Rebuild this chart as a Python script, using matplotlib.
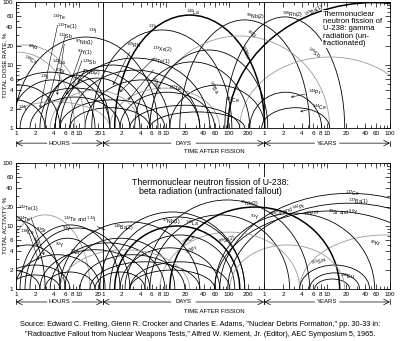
import numpy as np
import matplotlib
matplotlib.use('Agg')
import matplotlib.pyplot as plt
from matplotlib.patches import Arc
from matplotlib.ticker import NullFormatter

plt.rcParams['font.family'] = ['Liberation Sans', 'DejaVu Sans']
plt.rcParams['mathtext.fontset'] = 'dejavusans'

# time axis is hours after fission; 1 day = 24 h, 1 year = 8766 h
HOURS_PER_DAY = 24
HOURS_PER_YEAR = 8766

hour_ticks = [1, 2, 4, 6, 8, 10, 20]
day_ticks = [1, 2, 4, 6, 8, 10, 20, 40, 60, 100, 200]
year_ticks = [1, 2, 4, 6, 8, 10, 20, 40, 60, 100]
y_ticks = [1, 2, 4, 6, 10, 20, 40, 60, 100]

# gamma panel: each nuclide curve = (start h, end h, peak %)
gamma_names = ['133I', '131I', '140La', '95Nb(2)', '106Rh(2)', '137Ba(1)', '95Zr', '125Sb',
               '103Ru', '140Ba', '141Ce', '144Pr', '144Ce', '147Nd', '127Te', '133Xe(2)',
               '105Rh', '129Te(1)', '138Cs', '88Kr', 'a', 'b', 'c', 'd', '97Nb(1)', 'e',
               'f', 'g', 'h', 'i', 'j', '129Sb', '91Y', 'k', 'l', '99Mo']
gamma_start = [0.93, 16, 37, 400, 2080, 2320, 134, 3590,
               134, 77, 278, 5180, 8030, 45, 31, 7.2,
               4.2, 12.5, 0.13, 0.155, 0.39, 0.8, 1.16, 1.67, 2.4, 3.5,
               0.27, 5, 7.2, 0.56, 0.32, 2.9, 4.2, 64.5, 134, 5]
gamma_end = [180, 2690, 8960, 46400, 167000, 1e8, 96400, 2.6e6,
             10000, 5180, 8960, 71900, 96400, 1440, 1730, 833,
             278, 833, 8.6, 12.5, 31, 18, 64.5, 45, 134, 93,
             5, 232, 134, 31, 2.9, 31, 93, 3590, 4310, 1200]
gamma_peak = [27.8, 36, 62, 52, 58, 98, 28.9, 13.4,
              17.3, 11.2, 4.8, 3.7, 2.1, 3.7, 4.3, 8.3,
              10, 5.8, 16, 20.8, 7.7, 5.8, 4.3, 3.1, 8.3, 4.0,
              4.8, 2.8, 2.1, 2.6, 2.8, 6.9, 6.2, 2.3, 1.8, 12.9]
gamma_gray = ['95Zr', '125Sb', '127Te', '138Cs', '88Kr', 'e', 'i']
gamma_bold = ['140La', '137Ba(1)']

# beta panel
beta_names = ['137Cs', '137Ba(1)', '90Sr+90Y', '85Kr', '147Pm', '144Ce+144Pr', '95Nb(2)',
              '91Y', '89Sr(2)', '141Ce', '140La', '143Pr', '140Ba', '147Nd', 'm', 'n', 'o',
              '106Ru', '138Cs', '134Te', '92Sr', '92Y', '97Zr', '93Y', '133I', '132I',
              '135I', '99Mo', '97Nb(1)', '105Rh', '132Te', 'p', 'q', 'r', 's', 't', 'u',
              'v', '132Te+132I', '131I']
beta_start = [1730, 2320, 1440, 32200, 1440, 278, 112,
              134, 193, 31, 37, 54, 45, 64.5, 32200, 46400, 55700,
              2490, 0.19, 0.13, 0.56, 1.16, 1.67, 1.39, 3.5, 0.39,
              0.96, 6, 2.4, 10.4, 15, 5, 0.56, 0.27, 0.8, 2.9, 18,
              64.5, 5, 21.5]
beta_end = [2.3e7, 1.6e7, 6.5e6, 1.6e7, 500000, 139000, 46400,
            22300, 32200, 4310, 3590, 2990, 1730, 2490, 415000, 288000, 200000,
            167000, 5, 2.9, 15, 45, 26, 64.5, 232, 6,
            21.5, 334, 134, 482, 833, 578, 7.2, 2.4, 5, 18, 112,
            1440, 833, 4310]
beta_peak = [33, 23, 17.3, 7.2, 16, 20, 25.9,
             15, 8, 13.9, 10, 7.2, 4.5, 2.7, 2.4, 1.8, 1.44,
             5, 12.4, 16.7, 15, 10.4, 6.4, 9.3, 5.4, 5,
             3.5, 6.4, 4.2, 3.5, 2.7, 4.2, 2.4, 2, 1.67, 1.86, 1.86,
             2, 11.6, 16.7]
beta_gray = ['85Kr', '89Sr(2)', '106Ru', 'p', '92Sr']
beta_bold = ['140La', '144Ce+144Pr']


def hour_positions(vals, unit):
    return [v * unit for v in vals]


def setup_axes(ax):
    ax.set_xscale('log')
    ax.set_yscale('log')
    ax.set_xlim(1, 100 * HOURS_PER_YEAR)
    ax.set_ylim(1, 100)
    ax.set_autoscale_on(False)
    xt = hour_ticks + hour_positions(day_ticks, HOURS_PER_DAY) + hour_positions(year_ticks, HOURS_PER_YEAR)
    xl = [str(v) for v in hour_ticks + day_ticks + year_ticks]
    ax.set_xticks(xt)
    ax.set_xticklabels(xl)
    minor = [3, 5, 7, 9] + hour_positions([3, 5, 7, 9, 30, 50, 70, 80, 90, 300], HOURS_PER_DAY) \
        + hour_positions([3, 5, 7, 9, 30, 50, 70, 80, 90], HOURS_PER_YEAR)
    ax.set_xticks(minor, minor=True)
    ax.set_yticks(y_ticks)
    ax.set_yticklabels([str(v) for v in y_ticks])
    ax.set_yticks([3, 5, 7, 8, 9, 30, 50, 70, 80, 90], minor=True)
    ax.xaxis.set_minor_formatter(NullFormatter())
    ax.yaxis.set_minor_formatter(NullFormatter())
    ax.tick_params(which='both', direction='in', top=True, right=True, width=0.5,
                   labelsize=4.5, pad=2)
    ax.tick_params(which='major', length=3.5)
    ax.tick_params(which='minor', length=2)
    for s in ax.spines.values():
        s.set_linewidth(0.6)
    for b in [HOURS_PER_DAY, HOURS_PER_YEAR]:
        ax.axvline(b, color='black', lw=0.6)


def draw_arcs(ax, names, start, end, peak, gray, bold):
    # arches drawn in the scaled (log) space of the axes
    tr = ax.transLimits + ax.transAxes
    for n, t0, t1, pk in zip(names, start, end, peak):
        l0, l1 = np.log10(t0), np.log10(t1)
        col = '#9a9a9a' if n in gray else 'black'
        lw = 1.1 if n in bold else 0.6
        arc = Arc(((l0 + l1) / 2, 0), l1 - l0, 2 * np.log10(pk), theta1=0, theta2=180,
                  transform=tr, color=col, lw=lw)
        ax.add_patch(arc)


def period_row(ax, y):
    spans = [(1, HOURS_PER_DAY, 'HOURS'), (HOURS_PER_DAY, HOURS_PER_YEAR, 'DAYS'),
             (HOURS_PER_YEAR, 100 * HOURS_PER_YEAR, 'YEARS')]
    for a, b, lab in spans:
        mid = np.sqrt(a * b)
        ax.annotate('', xy=(a, y), xytext=(mid, y), xycoords=('data', 'axes fraction'),
                    arrowprops=dict(arrowstyle='->', lw=0.5, shrinkA=9, shrinkB=0), annotation_clip=False)
        ax.annotate('', xy=(b, y), xytext=(mid, y), xycoords=('data', 'axes fraction'),
                    arrowprops=dict(arrowstyle='->', lw=0.5, shrinkA=9, shrinkB=0), annotation_clip=False)
        ax.text(mid, y, lab, transform=ax.get_xaxis_transform(), ha='center', va='center',
                fontsize=4.3, bbox=dict(fc='white', ec='none', pad=0.3))
        for e in (a, b):
            ax.plot([e, e], [y - 0.02, y + 0.02], transform=ax.get_xaxis_transform(),
                    color='black', lw=0.5, clip_on=False)


def lab(ax, s, x, y, rot=0, color='black', arrow=None):
    if arrow is None:
        ax.text(x, y, s, transform=ax.transAxes, fontsize=3.6, rotation=rot, color=color,
                ha='left', va='center')
    else:
        ax.annotate(s, xy=arrow, xytext=(x, y), xycoords='axes fraction', fontsize=3.6,
                    va='center', color=color,
                    arrowprops=dict(arrowstyle='->', lw=0.4, shrinkA=0, shrinkB=0))


fig = plt.figure(figsize=(4.0, 3.41), dpi=100)
ax1 = fig.add_axes([0.04, 0.6246, 0.935, 0.3695])
ax2 = fig.add_axes([0.04, 0.1525, 0.935, 0.3695])

for ax in (ax1, ax2):
    setup_axes(ax)

draw_arcs(ax1, gamma_names, gamma_start, gamma_end, gamma_peak, gamma_gray, gamma_bold)
draw_arcs(ax2, beta_names, beta_start, beta_end, beta_peak, beta_gray, beta_bold)

period_row(ax1, -0.12)
period_row(ax2, -0.103)
ax1.text(0.53, -0.19, 'TIME AFTER FISSION', transform=ax1.transAxes, fontsize=4.3, ha='center', va='center')
ax2.text(0.53, -0.18, 'TIME AFTER FISSION', transform=ax2.transAxes, fontsize=4.3, ha='center', va='center')

fig.text(0.012, 0.81, 'TOTAL DOSE RATE, %', rotation=90, fontsize=4.5, ha='center', va='center')
fig.text(0.012, 0.34, 'TOTAL ACTIVITY, %', rotation=90, fontsize=4.5, ha='center', va='center')

ax1.text(0.82, 0.93, 'Thermonuclear\nneutron fission of\nU-238: gamma\nradiation (un-\nfractionated)',
         transform=ax1.transAxes, fontsize=5.6, ha='left', va='top', linespacing=1.05,
         bbox=dict(fc='white', ec='none', pad=0.5))
ax2.text(0.52, 0.88, 'Thermonuclear neutron fission of U-238:\nbeta radiation (unfractionated fallout)',
         transform=ax2.transAxes, fontsize=6.3, ha='center', va='top', linespacing=1.05,
         bbox=dict(fc='white', ec='none', pad=0.5))

# gamma labels
lab(ax1, r'$^{134}$Te', 0.096, 0.875, arrow=(0.064, 0.159))
lab(ax1, r'$^{132}$Te(1)', 0.11, 0.80, arrow=(0.086, 0.206))
lab(ax1, r'$^{132}$Sb', 0.112, 0.725, arrow=(0.11, 0.262))
lab(ax1, r'$^{88}$Kr', 0.032, 0.64)
lab(ax1, r'$^{138}$Cs', 0.016, 0.54, rot=-20)
lab(ax1, r'$^{142}$La', 0.096, 0.524)
lab(ax1, r'$^{91}$Sr', 0.104, 0.45)
lab(ax1, r'$^{97}$Nb(1)', 0.158, 0.675, arrow=(0.134, 0.262))
lab(ax1, r'$^{91}$Y(1)', 0.163, 0.60, arrow=(0.15, 0.317))
lab(ax1, r'$^{129}$Sb', 0.176, 0.525, arrow=(0.165, 0.36))
lab(ax1, r'$^{97}$Nb(2)', 0.176, 0.44)
lab(ax1, r'$^{135}$I', 0.064, 0.40)
lab(ax1, r'$^{133}$I', 0.193, 0.77)
lab(ax1, r'$^{131}$I', 0.352, 0.80)
lab(ax1, r'$^{140}$La', 0.455, 0.92)
lab(ax1, r'$^{105}$Rh', 0.294, 0.659, arrow=(0.259, 0.341))
lab(ax1, r'$^{133}$Xe(2)', 0.364, 0.619, arrow=(0.278, 0.286))
lab(ax1, r'$^{129}$Te(1)', 0.358, 0.524, arrow=(0.3, 0.222))
lab(ax1, r'$^{147}$Nd', 0.35, 0.357, rot=-60)
lab(ax1, r'$^{127}$Te', 0.406, 0.317)
lab(ax1, r'$^{103}$Ru', 0.591, 0.603, rot=-60)
lab(ax1, r'$^{95}$Nb(2)', 0.615, 0.881)
lab(ax1, r'$^{106}$Rh(2)', 0.711, 0.897)
lab(ax1, r'$^{137}$Ba(1)', 0.767, 0.925, rot=30)
lab(ax1, r'$^{95}$Zr', 0.612, 0.738, rot=-20)
lab(ax1, r'$^{140}$Ba', 0.505, 0.325, rot=-55)
lab(ax1, r'$^{125}$Sb', 0.773, 0.595, rot=-30)
lab(ax1, r'$^{141}$Ce', 0.559, 0.222)
lab(ax1, r'$^{144}$Pr', 0.781, 0.286, arrow=(0.735, 0.245))
lab(ax1, r'$^{144}$Ce', 0.791, 0.167, arrow=(0.76, 0.13))
lab(ax1, r'$^{134}$I', 0.005, 0.159)

# beta labels
lab(ax2, r'$^{132}$Te(1)', 0.005, 0.635, arrow=(0.075, 0.27))
lab(ax2, r'$^{134}$Te', 0.003, 0.55, arrow=(0.06, 0.23))
lab(ax2, r'$^{138}$Cs', 0.011, 0.452)
lab(ax2, r'$^{92}$Sr', 0.032, 0.37, rot=-50)
lab(ax2, r'$^{91}$Sr', 0.053, 0.468)
lab(ax2, r'$^{93}$Y', 0.123, 0.476)
lab(ax2, r'$^{92}$Y', 0.104, 0.349)
lab(ax2, r'$^{132}$Te and $^{132}$I', 0.126, 0.555, arrow=(0.238, 0.468))
lab(ax2, r'$^{97}$Zr', 0.144, 0.29)
lab(ax2, r'$^{140}$Ba(2)', 0.259, 0.484)
lab(ax2, r'$^{97}$Nb(1)', 0.39, 0.532)
lab(ax2, r'$^{140}$La', 0.452, 0.524)
lab(ax2, r'$^{141}$Ce', 0.439, 0.389, rot=35)
lab(ax2, r'$^{143}$Pr', 0.447, 0.31, rot=35)
lab(ax2, r'$^{95}$Nb(2)', 0.599, 0.675)
lab(ax2, r'$^{144}$Ce and $^{144}$Pr', 0.672, 0.625, rot=15)
lab(ax2, r'$^{91}$Y', 0.626, 0.57)
lab(ax2, r'$^{89}$Sr(2)', 0.54, 0.389, rot=20)
lab(ax2, r'$^{147}$Pm', 0.765, 0.6, rot=15)
lab(ax2, r'$^{137}$Cs', 0.88, 0.762)
lab(ax2, r'$^{137}$Ba(1)', 0.888, 0.69)
lab(ax2, r'$^{90}$Sr and $^{90}$Y', 0.835, 0.611)
lab(ax2, r'$^{85}$Kr', 0.947, 0.365)
lab(ax2, r'$^{151}$Sm', 0.786, 0.214, rot=20)
lab(ax2, r'$^{155}$Eu', 0.866, 0.103)

fig.text(0.5, 0.047, 'Source: Edward C. Freiling, Glenn R. Crocker and Charles E. Adams, "Nuclear Debris Formation," pp. 30-33 in:',
         fontsize=5.3, ha='center', va='center')
fig.text(0.5, 0.018, '"Radioactive Fallout from Nuclear Weapons Tests," Alfred W. Klement, Jr. (Editor), AEC Symposium 5, 1965.',
         fontsize=5.3, ha='center', va='center')

fig.savefig('out.png', dpi=100)
